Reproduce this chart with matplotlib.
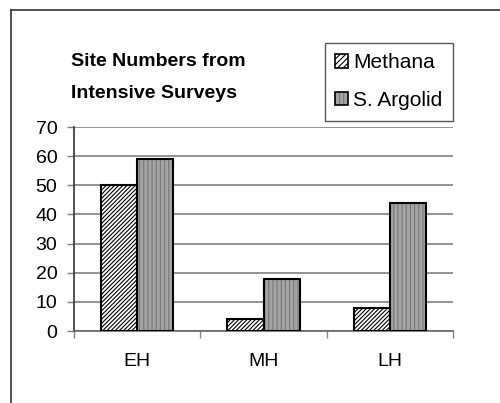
import numpy as np
import matplotlib
matplotlib.use("Agg")
import matplotlib.pyplot as plt
from matplotlib.patches import Patch
from matplotlib.legend_handler import HandlerTuple
from matplotlib.lines import Line2D

periods = ["EH", "MH", "LH"]
methana = [50, 4, 8]
argolid = [59, 18, 44]

plt.rcParams['font.family'] = ['Liberation Sans', 'DejaVu Sans']
plt.rcParams['hatch.linewidth'] = 0.8

fig = plt.figure(figsize=(5, 4.03), dpi=100)
ax = fig.add_axes([74/500, 1 - 331/403, (453 - 74)/500, (331 - 127)/403])

x = np.arange(len(periods))
w = 1 / 3.5

# methana: white with diagonal hatch
ax.bar(x - w/2, methana, w, color='white', edgecolor='black', hatch='/' * 8, linewidth=0, zorder=3)
ax.bar(x - w/2, methana, w, fill=False, edgecolor='black', linewidth=1.5, zorder=4)

# argolid: grey vertical stripes
ax.bar(x + w/2, argolid, w, color='#a4a4a4', edgecolor='#767676', hatch='||||', linewidth=0, zorder=3)
ax.bar(x + w/2, argolid, w, fill=False, edgecolor='black', linewidth=1.5, zorder=4)

ax.set_xlim(-0.5, 2.5)
ax.set_ylim(0, 70)
ax.set_yticks(range(0, 71, 10))
ax.yaxis.grid(True, color='#808080', linewidth=1.2, zorder=0)
ax.set_axisbelow(True)

ax.set_xticks([-0.5, 0.5, 1.5, 2.5])
ax.set_xticklabels([])
ax.set_xticks(x, minor=True)
ax.set_xticklabels(periods, minor=True, fontsize=14)
ax.tick_params(axis='x', which='minor', length=0, pad=16)
ax.tick_params(axis='x', which='major', length=5, color='#808080', width=1)
ax.tick_params(axis='y', length=5, color='#808080', width=1, labelsize=14, pad=7)

for s in ['top', 'right']:
    ax.spines[s].set_visible(False)
ax.spines['left'].set_color('#333333')
ax.spines['bottom'].set_color('#666666')
for s in ['left', 'bottom']:
    ax.spines[s].set_linewidth(1.2)

fig.text(71/500, 1 - 62/403, "Site Numbers from", fontsize=14, fontweight='bold', va='center')
fig.text(71/500, 1 - 93/403, "Intensive Surveys", fontsize=14, fontweight='bold', va='center')

h1 = (Patch(facecolor='white', edgecolor='black', hatch='/' * 6, linewidth=0),
      Patch(fill=False, edgecolor='black', linewidth=1.2))
h2 = (Patch(facecolor='#a4a4a4', edgecolor='#767676', hatch='||||', linewidth=0),
      Patch(fill=False, edgecolor='black', linewidth=1.2))
leg = fig.legend([h1, h2], ["Methana", "S. Argolid"], loc='upper left',
                 bbox_to_anchor=(325/500, 1 - 43/403), fontsize=15,
                 handler_map={tuple: HandlerTuple(ndivide=1, pad=0)},
                 handlelength=0.6, handleheight=0.6, handletextpad=0.25,
                 labelspacing=0.9, borderpad=0.5, borderaxespad=0,
                 fancybox=False, edgecolor='#555555', framealpha=1)
leg.get_frame().set_linewidth(1.0)

# outer chart frame
fig.add_artist(Line2D([11/500, 11/500], [0, 1 - 10/403], color='#333333', linewidth=1.2, transform=fig.transFigure))
fig.add_artist(Line2D([11/500, 1], [1 - 10/403, 1 - 10/403], color='#333333', linewidth=1.2, transform=fig.transFigure))

fig.savefig("out.png", dpi=100)
